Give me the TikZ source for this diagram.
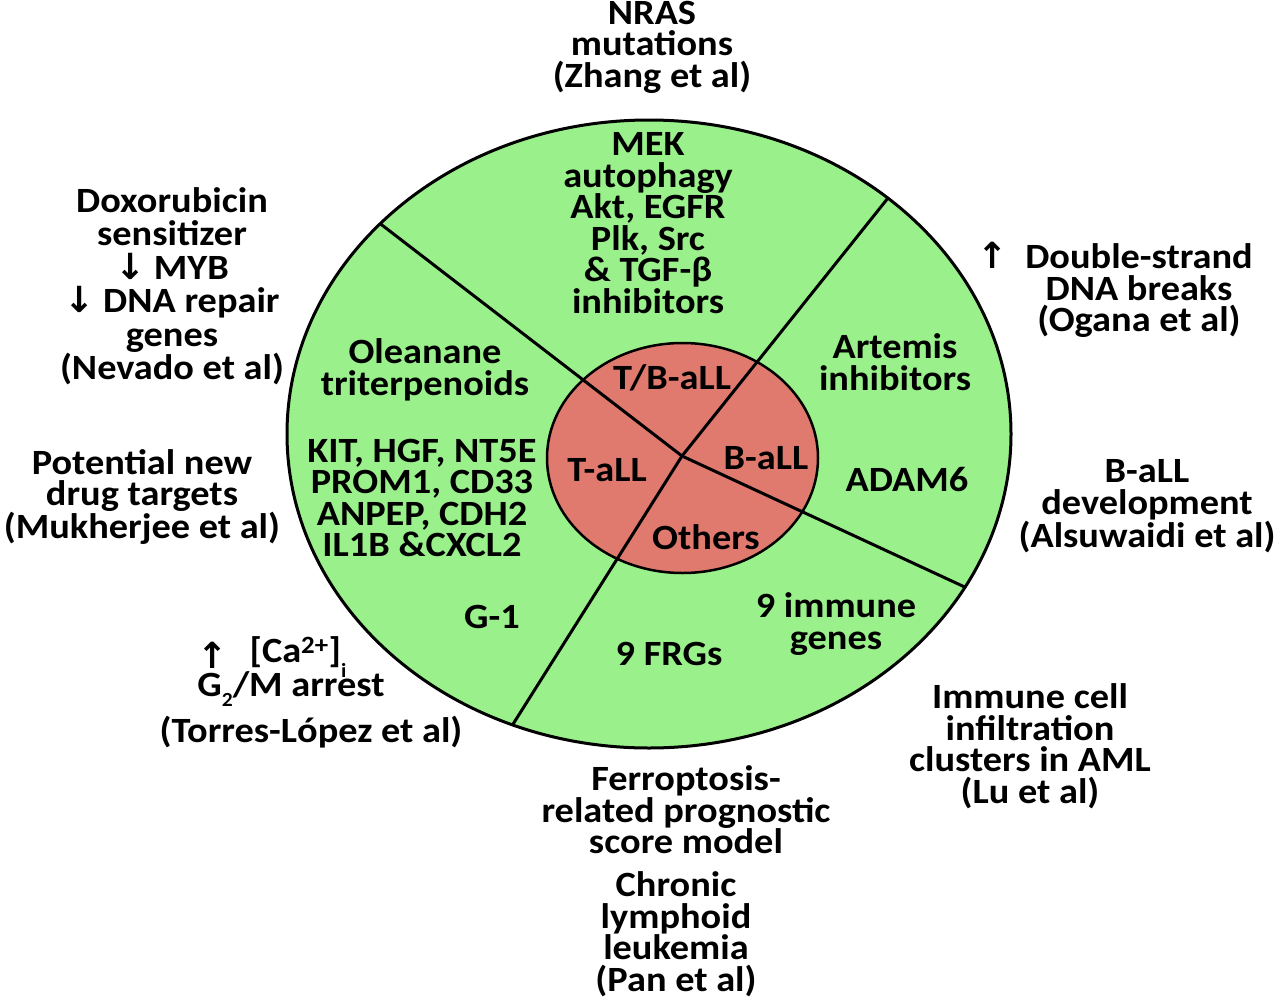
\documentclass[tikz,border=0pt]{standalone}
\usepackage{fontspec}
\setmainfont{Carlito}[FakeStretch=1.08]
\newfontfamily\arrowfont{DejaVu Sans}
\usetikzlibrary{calc}
\definecolor{cellgreen}{RGB}{154,240,138}
\definecolor{cellred}{RGB}{224,122,111}
\newcommand\darr{{\arrowfont\bfseries\fontsize{36}{30}\selectfont ↓}}
\newcommand\uarr{{\arrowfont\bfseries\fontsize{36}{30}\selectfont ↑}}
\begin{document}
\begin{tikzpicture}[x=1pt,y=-1pt,
  txt/.style={font=\bfseries\fontsize{35.5}{31.5}\selectfont, align=center, inner sep=0pt},
  arr/.style={inner sep=0pt},
  edge/.style={line width=3pt}]
\useasboundingbox (0,0) rectangle (1280,1004);
% shapes
\coordinate (oc) at (649,434);
\coordinate (ic) at (682.5,458);
\coordinate (c) at (682,456);
\coordinate (ul) at (378,222);
\coordinate (ur) at (888,198);
\coordinate (lr) at (969,589);
\coordinate (ll) at (515,721);
\fill[cellgreen] (oc) ellipse [x radius=362, y radius=314];
\filldraw[cellred, draw=black, line width=2.5pt] (ic) ellipse [x radius=135.5, y radius=115];
\begin{scope}
  \clip (oc) ellipse [x radius=362, y radius=314];
  \draw[edge] (c) -- ($(c)!1.3!(ul)$);
  \draw[edge] (c) -- ($(c)!1.3!(ur)$);
  \draw[edge] (c) -- ($(c)!1.3!(lr)$);
  \draw[edge] (c) -- ($(c)!1.3!(ll)$);
\end{scope}
\draw[line width=3pt] (oc) ellipse [x radius=362, y radius=314];
% inner labels
\node[txt] (tb) at (672,378) {T/B-aLL};
\node[txt] (ta) at (607,470) {T-aLL};
\node[txt] (ba) at (766,458) {B-aLL};
\node[txt] (ot) at (706,537) {Others};
% green labels
\node[txt] (mek) at (648,223) {MEK\\autophagy\\Akt, EGFR\\Plk, Src\\\& TGF-β\\inhibitors};
\node[txt] (ole) at (425,370) {Oleanane\\triterpenoids};
\node[txt] (kit) at (422,498) {KIT, HGF, NT5E\\PROM1, CD33\\ANPEP, CDH2\\IL1B \&CXCL2};
\node[txt] (g1) at (492,617) {G-1};
\node[txt] (art) at (895,362) {Artemis\\inhibitors};
\node[txt] (adam) at (907,480) {ADAM6};
\node[txt] (imm) at (836,624) {9 immune\\genes};
\node[txt] (frg) at (669,654) {9 FRGs};
% outer labels
\node[txt] (nras) at (652,47) {NRAS\\mutations\\(Zhang et al)};
\node[txt, font=\bfseries\fontsize{35.5}{33.5}\selectfont] (dox) at (172,286) {Doxorubicin\\sensitizer\\\darr{} MYB\\\darr{} DNA repair\\genes\\(Nevado et al)};
\node[txt] (dsb) at (1139,290) {\llap{\uarr\hspace{0.5em}}Double-strand\\DNA breaks\\(Ogana et al)};
\node[txt] (pot) at (142,497) {Potential new\\drug targets\\(Mukherjee et al)};
\node[txt] (bdev) at (1147,506) {B-aLL\\development\\(Alsuwaidi et al)};
\node[arr] (caup) at (213,655) {\uarr};
\node[txt] (ca) at (298,657) {[Ca\textsuperscript{2+}]\raisebox{-0.4em}{\fontsize{20}{20}\selectfont i}};
\node[txt] (g2m) at (291,689) {G\raisebox{-0.3em}{\fontsize{20}{20}\selectfont 2}/M arrest};
\node[txt] (tor) at (311,732) {(Torres-López et al)};
\node[txt] (lu) at (1030,746) {Immune cell\\infiltration\\clusters in AML\\(Lu et al)};
\node[txt] (fer) at (686,810) {Ferroptosis-\\related prognostic\\score model};
\node[txt] (pan) at (676,934) {Chronic\\lymphoid\\leukemia\\(Pan et al)};
\end{tikzpicture}
\end{document}
